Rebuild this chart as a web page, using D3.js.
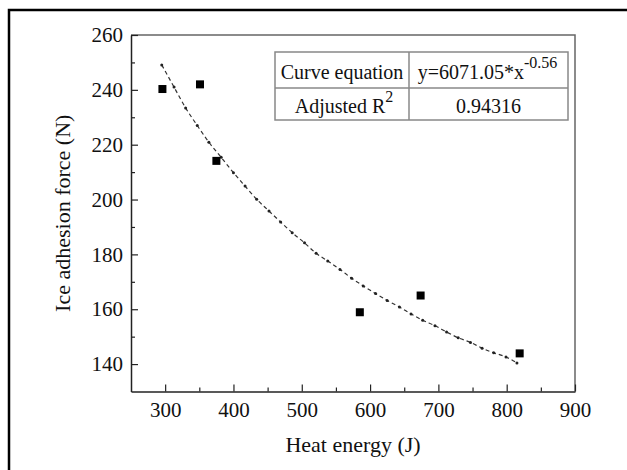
<html>
<head>
  <meta charset="utf-8" />
  <style>
    body { margin: 0; background: #fff; }
    text { font-family: "Liberation Serif", "Times New Roman", serif; fill: #111; }
  </style>
</head>
<body>
<svg id="chart" width="627" height="470"></svg>
<script src="https://cdn.jsdelivr.net/npm/d3@7"></script>
<script>

// measured points
var heatEnergy = [296, 351, 375, 585, 674, 819]
var adhesionForce = [240.3, 242.0, 214.1, 158.9, 165.0, 143.9]

// fitted curve
var fitX = [295, 313, 330, 347, 364, 382, 400, 417, 434, 452, 469, 486, 504, 521, 538, 556,
            573, 590, 608, 625, 643, 660, 677, 695, 712, 729, 747, 764, 781, 799, 815]
var fitY = [249.1, 241.0, 233.4, 227.0, 220.9, 215.4, 209.8, 204.9, 200.1, 195.8, 191.8, 187.9,
            184.2, 180.4, 177.6, 174.5, 171.3, 168.5, 165.7, 163.2, 160.8, 158.3, 156.0, 154.0,
            151.7, 149.6, 147.9, 145.8, 144.1, 142.6, 140.4]

var xTicks = [300, 400, 500, 600, 700, 800, 900]
var yTicks = [140, 160, 180, 200, 220, 240, 260]

var tableRows = [
  ['Curve equation', 'y=6071.05*x', '-0.56'],
  ['Adjusted R', '0.94316', '2']
]

var svg = d3.select('#chart')

// outer frame, runs off the right and bottom edge
svg.append('rect')
  .attr('x', 9).attr('y', 10).attr('width', 700).attr('height', 500)
  .attr('fill', 'none').attr('stroke', '#000').attr('stroke-width', 2.5)

var pLeft = 131, pRight = 575, pTop = 35, pBottom = 391.5

var x = d3.scaleLinear().domain([250, 900]).range([pLeft, pRight])
var y = d3.scaleLinear().domain([130, 260]).range([pBottom, pTop])

// top and right frame
svg.append('path')
  .attr('d', `M${pLeft},${pTop}H${pRight}V${pBottom}`)
  .attr('fill', 'none').attr('stroke', '#666').attr('stroke-width', 1.5)

var minorX = d3.range(350, 900, 100)
var minorY = d3.range(150, 260, 20)

svg.append('g')
  .attr('transform', `translate(0,${pBottom})`)
  .call(d3.axisBottom(x).tickValues(minorX).tickSize(-4).tickFormat(''))
  .call(g => g.select('.domain').remove())

var xAxis = svg.append('g')
  .attr('transform', `translate(0,${pBottom})`)
  .call(d3.axisBottom(x).tickValues(xTicks).tickSize(-7).tickPadding(11).tickSizeOuter(0))
xAxis.selectAll('text').attr('font-size', 21)

svg.append('g')
  .attr('transform', `translate(${pLeft},0)`)
  .call(d3.axisLeft(y).tickValues(minorY).tickSize(-4).tickFormat(''))
  .call(g => g.select('.domain').remove())

var yAxis = svg.append('g')
  .attr('transform', `translate(${pLeft},0)`)
  .call(d3.axisLeft(y).tickValues(yTicks).tickSize(-7).tickPadding(8).tickSizeOuter(0))
yAxis.selectAll('text').attr('font-size', 21)

svg.selectAll('.domain').attr('stroke', '#222').attr('stroke-width', 1.5)
svg.selectAll('.tick line').attr('stroke', '#222').attr('stroke-width', 1.2)
svg.selectAll('.tick text').style('font-family', '"Liberation Serif", serif').attr('fill', '#111')

// axis titles
svg.append('text')
  .attr('x', (pLeft + pRight) / 2).attr('y', 452)
  .attr('text-anchor', 'middle').attr('font-size', 22)
  .text('Heat energy (J)')

svg.append('text')
  .attr('transform', `translate(70,${(pTop + pBottom) / 2}) rotate(-90)`)
  .attr('text-anchor', 'middle').attr('font-size', 22)
  .text('Ice adhesion force (N)')

// fit curve
var fitData = fitX.map((d, i) => [d, fitY[i]])
svg.append('path')
  .datum(fitData)
  .attr('d', d3.line().x(d => x(d[0])).y(d => y(d[1])).curve(d3.curveMonotoneX))
  .attr('fill', 'none').attr('stroke', '#333').attr('stroke-width', 1.2)
  .attr('stroke-dasharray', '4,3')

svg.selectAll('.fitdot')
  .data(fitData)
  .enter().append('circle')
  .attr('cx', d => x(d[0])).attr('cy', d => y(d[1]))
  .attr('r', 1.5).attr('fill', '#222')

// measured squares
var pts = heatEnergy.map((d, i) => [d, adhesionForce[i]])
svg.selectAll('.pt')
  .data(pts)
  .enter().append('rect')
  .attr('x', d => x(d[0]) - 4).attr('y', d => y(d[1]) - 4)
  .attr('width', 8).attr('height', 8).attr('fill', '#000')

// table
var tx0 = 275, tx1 = 409, tx2 = 568, ty0 = 52, ty1 = 88, ty2 = 120
var tg = svg.append('g')
tg.append('rect')
  .attr('x', tx0).attr('y', ty0).attr('width', tx2 - tx0).attr('height', ty2 - ty0)
  .attr('fill', '#fff').attr('stroke', '#888').attr('stroke-width', 1.5)
tg.append('line').attr('x1', tx1).attr('x2', tx1).attr('y1', ty0).attr('y2', ty2)
  .attr('stroke', '#888').attr('stroke-width', 1.5)
tg.append('line').attr('x1', tx0).attr('x2', tx2).attr('y1', ty1).attr('y2', ty1)
  .attr('stroke', '#888').attr('stroke-width', 1.5)

// row 1
tg.append('text').attr('x', (tx0 + tx1) / 2).attr('y', 79)
  .attr('text-anchor', 'middle').attr('font-size', 20).text(tableRows[0][0])
var t2 = tg.append('text').attr('x', (tx1 + tx2) / 2 - 1).attr('y', 79)
  .attr('text-anchor', 'middle').attr('font-size', 20)
t2.append('tspan').text(tableRows[0][1])
t2.append('tspan').attr('dy', -11).attr('font-size', 16).text(tableRows[0][2])

// row 2
var t3 = tg.append('text').attr('x', (tx0 + tx1) / 2 + 2).attr('y', 113)
  .attr('text-anchor', 'middle').attr('font-size', 20)
t3.append('tspan').text(tableRows[1][0])
t3.append('tspan').attr('dy', -11).attr('font-size', 16).text(tableRows[1][2])
tg.append('text').attr('x', (tx1 + tx2) / 2).attr('y', 113)
  .attr('text-anchor', 'middle').attr('font-size', 20).text(tableRows[1][1])

</script>
</body>
</html>
